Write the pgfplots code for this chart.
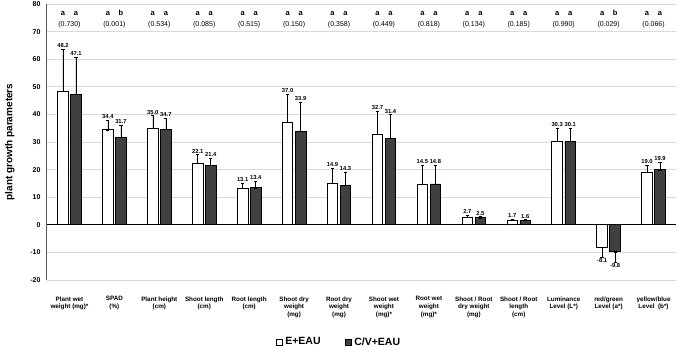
\documentclass[border=0pt]{standalone}
\usepackage{fontspec}
\setmainfont{Liberation Sans}
\usepackage{pgfplots}
\usepackage{pgfplotstable}
\pgfplotsset{compat=1.18}

\definecolor{darkbar}{HTML}{404040}
\definecolor{gridgray}{HTML}{D9D9D9}

% mean, upper and lower error per parameter
\pgfplotstableread{
x y ep em
0 48.2 15.5 0
1 34.4 3.6 0
2 35.0 4.5 0
3 22.1 3.3 0
4 13.1 2.0 0
5 37.0 10.3 0
6 14.9 5.6 0
7 32.7 8.4 0
8 14.5 7.2 0
9 2.7 0.9 0
10 1.7 0.3 0
11 30.3 4.7 0
12 -8.1 0 3.6
13 19.0 2.5 0
}\eau

\pgfplotstableread{
x y ep em
0 47.1 13.7 0
1 31.7 4.4 0
2 34.7 3.9 0
3 21.4 2.8 0
4 13.4 2.3 0
5 33.9 10.5 0
6 14.3 4.8 0
7 31.4 8.5 0
8 14.8 6.9 0
9 2.5 0.5 0
10 1.6 0.3 0
11 30.1 4.9 0
12 -9.8 0 3.7
13 19.9 2.8 0
}\cveau

% significance letters and p-values, with their heights
\pgfplotstableread{
x la lb p ly py
0 a a (0.730) 76.7 72.5
1 a b (0.001) 76.7 72.5
2 a a (0.534) 76.7 72.5
3 a a (0.085) 76.7 72.5
4 a a (0.515) 76.7 72.5
5 a a (0.150) 76.7 72.5
6 a a (0.358) 76.7 72.5
7 a a (0.449) 76.7 72.5
8 a a (0.818) 76.7 72.5
9 a a (0.134) 76.7 72.5
10 a a (0.185) 76.7 72.5
11 a a (0.990) 76.7 72.5
12 a b (0.029) 76.7 72.5
13 a a (0.066) 76.7 72.5
}\stats

\begin{document}
\begin{tikzpicture}
\begin{axis}[
  width=629pt, height=276pt, scale only axis,
  xmin=-0.5, xmax=13.5, ymin=-20, ymax=80,
  ytick={-20,-10,...,80},
  ymajorgrids, major grid style={gridgray, line width=0.8pt},
  axis y line*=left, axis x line*=bottom,
  x axis line style={draw=none},
  y axis line style={draw=black!65, line width=1pt},
  major tick length=0pt,
  xtick={0,...,13},
  xticklabels={
    {Plant wet\\weight (mg)*},
    {SPAD\\(\%)},
    {Plant height\\(cm)},
    {Shoot length\\(cm)},
    {Root length\\(cm)},
    {Shoot dry\\weight\\(mg)},
    {Root dry\\weight\\(mg)},
    {Shoot wet\\weight\\(mg)*},
    {Root wet\\weight\\(mg)*},
    {Shoot / Root\\dry weight\\(mg)},
    {Shoot / Root\\length\\(cm)},
    {Luminance\\Level (L*)},
    {red/green\\Level (a*)},
    {yellow/blue\\Level~~(b*)}},
  xticklabel style={align=center, font=\bfseries\fontsize{6.3}{7.8}\selectfont, yshift=-13pt},
  yticklabel style={font=\bfseries\fontsize{7}{8}\selectfont, xshift=-3pt},
  /pgf/number format/assume math mode=true,
  extra y ticks={0}, extra y tick labels={},
  extra y tick style={major grid style={black, line width=1pt}},
  ylabel={plant growth parameters},
  ylabel style={font=\bfseries\fontsize{10}{12}\selectfont, at={(axis description cs:-0.059,0.5)}, anchor=center},
  legend style={at={(0.464,-0.225)}, anchor=center, legend columns=2, draw=none, fill=none,
    font=\bfseries\fontsize{10.5}{12}\selectfont,
    /tikz/every odd column/.append style={column sep=1pt},
    /tikz/every even column/.append style={column sep=22pt}},
  legend image code/.code={\draw[#1, line width=0.7pt] (0pt,-3pt) rectangle (6pt,3pt);},
  error bars/y dir=both, error bars/y explicit,
  error bars/error bar style={black, line width=0.6pt},
  error bars/error mark options={rotate=90, mark size=1.6pt, black, line width=0.6pt},
]
\addplot[ybar, bar width=0.235, bar shift=0, draw=black, line width=0.8pt, fill=white]
  table[x expr=\thisrow{x}-0.145, y=y, y error plus=ep, y error minus=em] {\eau};
\addlegendentry{E+EAU}
\addplot[ybar, bar width=0.235, bar shift=0, draw=black, line width=0.8pt, fill=darkbar]
  table[x expr=\thisrow{x}+0.145, y=y, y error plus=ep, y error minus=em] {\cveau};
\addlegendentry{C/V+EAU}

% value labels beyond the error bars
\pgfplotsset{vallabel/.style={forget plot, draw=none, mark=none, no markers,
  error bars/y dir=none,
  nodes near coords, point meta=explicit symbolic,
  every node near coord/.append style={font=\bfseries\fontsize{5.8}{7}\selectfont, inner sep=1.2pt},
  unbounded coords=discard}}
\addplot[vallabel, restrict y to domain=0:100, nodes near coords align={above}]
  table[x expr=\thisrow{x}-0.145, y expr=\thisrow{y}+\thisrow{ep}, meta=y] {\eau};
\addplot[vallabel, restrict y to domain=-100:0, nodes near coords align={below}]
  table[x expr=\thisrow{x}-0.145, y expr=\thisrow{y}-\thisrow{em}, meta=y] {\eau};
\addplot[vallabel, restrict y to domain=0:100, nodes near coords align={above}]
  table[x expr=\thisrow{x}+0.145, y expr=\thisrow{y}+\thisrow{ep}, meta=y] {\cveau};
\addplot[vallabel, restrict y to domain=-100:0, nodes near coords align={below}]
  table[x expr=\thisrow{x}+0.145, y expr=\thisrow{y}-\thisrow{em}, meta=y] {\cveau};

% significance letters and p-values
\pgfplotsset{statlabel/.style={forget plot, draw=none, mark=none, no markers,
  error bars/y dir=none,
  nodes near coords, point meta=explicit symbolic,
  nodes near coords align={center}}}
\addplot[statlabel, every node near coord/.append style={font=\bfseries\fontsize{7.5}{9}\selectfont}]
  table[x expr=\thisrow{x}-0.145, y=ly, meta=la] {\stats};
\addplot[statlabel, every node near coord/.append style={font=\bfseries\fontsize{7.5}{9}\selectfont}]
  table[x expr=\thisrow{x}+0.145, y=ly, meta=lb] {\stats};
\addplot[statlabel, every node near coord/.append style={font=\fontsize{7}{8}\selectfont}]
  table[x=x, y=py, meta=p] {\stats};
\end{axis}
\pgfresetboundingbox
\path ([xshift=-47pt,yshift=-67pt]current axis.south west) rectangle ([xshift=2pt,yshift=4pt]current axis.north east);
\end{tikzpicture}
\end{document}
